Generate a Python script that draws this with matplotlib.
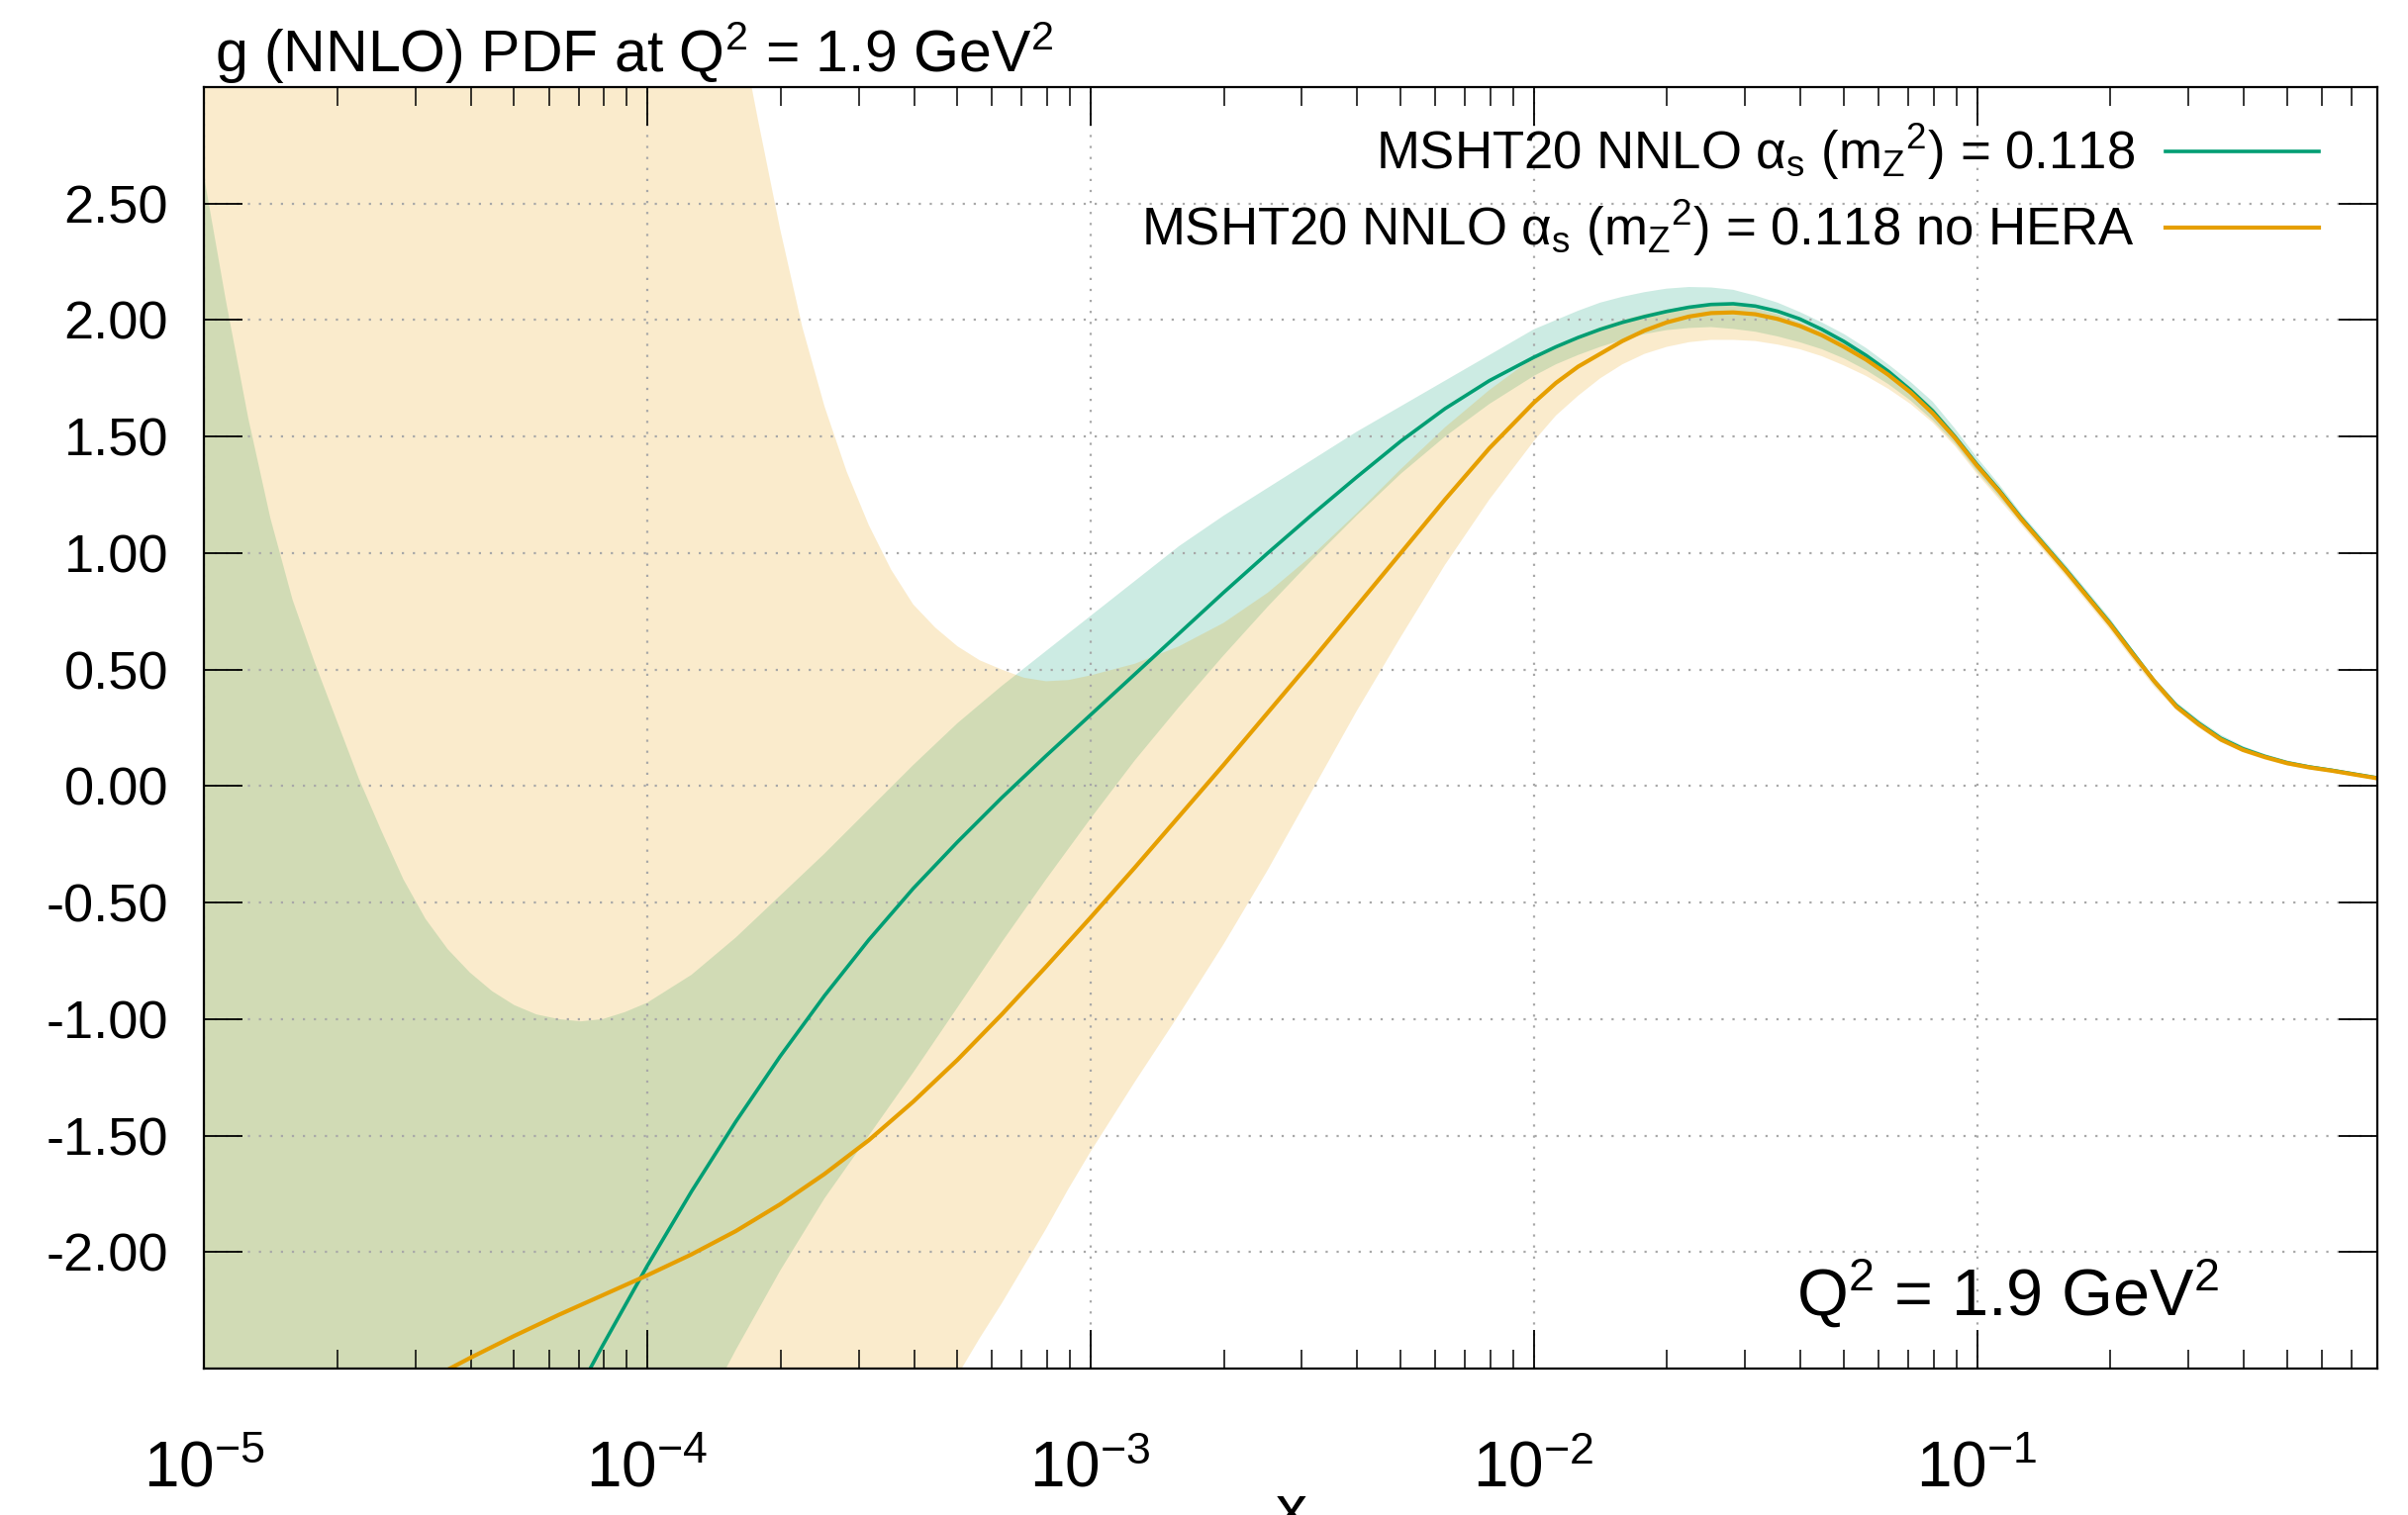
import matplotlib
matplotlib.use("Agg")
import matplotlib.pyplot as plt
import matplotlib.ticker as mticker
import numpy as np

# ------------------------------
# 1. Data (log10 x, g(x))
# ------------------------------
# shared sample points on the right half (peak and large-x tail)
logx_right = [-2.0, -1.95, -1.9, -1.85, -1.8, -1.75, -1.7, -1.65, -1.6, -1.55,
              -1.5, -1.45, -1.4, -1.35, -1.3, -1.25, -1.2, -1.15, -1.1, -1.05,
              -1.0, -0.95, -0.9, -0.85, -0.8, -0.75, -0.7, -0.65, -0.6, -0.55,
              -0.5, -0.45, -0.4, -0.35, -0.3, -0.25, -0.2, -0.15, -0.09]

# green band (MSHT20 NNLO): upper / lower edges
logx_green_left = [-5.0, -4.95, -4.9, -4.85, -4.8, -4.75, -4.7, -4.65, -4.6, -4.55,
                   -4.5, -4.45, -4.4, -4.35, -4.3, -4.25, -4.2, -4.15, -4.1, -4.05,
                   -4.0, -3.9, -3.8, -3.7, -3.6, -3.5, -3.4, -3.3, -3.2, -3.1,
                   -3.0, -2.9, -2.8, -2.7, -2.6, -2.5, -2.4, -2.3, -2.2, -2.1]
green_upper = [2.62, 2.08, 1.58, 1.15, 0.80, 0.53, 0.28, 0.03, -0.19, -0.40,
               -0.57, -0.70, -0.80, -0.88, -0.94, -0.98, -1.00, -1.01, -1.00, -0.97,
               -0.93, -0.81, -0.65, -0.47, -0.29, -0.10, 0.09, 0.27, 0.43, 0.58,
               0.73, 0.88, 1.03, 1.16, 1.28, 1.40, 1.52, 1.63, 1.74, 1.85,
               1.96, 2.00, 2.04, 2.075, 2.10, 2.12, 2.135, 2.142, 2.14, 2.13,
               2.105, 2.075, 2.035, 1.99, 1.94, 1.88, 1.81, 1.735, 1.65, 1.535,
               1.41, 1.295, 1.17, 1.06, 0.95, 0.835, 0.72, 0.59, 0.465, 0.36,
               0.285, 0.22, 0.172, 0.137, 0.11, 0.09, 0.075, 0.058, 0.038]
green_lower = [-6.65, -6.47, -6.30, -6.12, -5.95, -5.78, -5.60, -5.43, -5.25, -5.08,
               -4.90, -4.73, -4.55, -4.38, -4.20, -4.03, -3.85, -3.68, -3.50, -3.33,
               -3.15, -2.78, -2.42, -2.08, -1.77, -1.50, -1.23, -0.95, -0.67, -0.40,
               -0.14, 0.11, 0.34, 0.56, 0.77, 0.97, 1.16, 1.34, 1.50, 1.64,
               1.76, 1.81, 1.85, 1.885, 1.915, 1.94, 1.957, 1.966, 1.97, 1.962,
               1.95, 1.93, 1.905, 1.875, 1.835, 1.785, 1.725, 1.655, 1.57, 1.47,
               1.35, 1.24, 1.13, 1.02, 0.91, 0.795, 0.68, 0.555, 0.435, 0.33,
               0.255, 0.19, 0.148, 0.117, 0.09, 0.073, 0.06, 0.045, 0.028]

# green central line
logx_green_line_left = [-4.2, -4.1, -4.0, -3.9, -3.8, -3.7, -3.6, -3.5, -3.4, -3.3,
                        -3.2, -3.1, -3.0, -2.9, -2.8, -2.7, -2.6, -2.5, -2.4, -2.3,
                        -2.2, -2.1]
green_central = [-2.75, -2.40, -2.06, -1.74, -1.44, -1.16, -0.90, -0.66, -0.44, -0.24,
                 -0.05, 0.13, 0.305, 0.48, 0.655, 0.83, 1.00, 1.165, 1.325, 1.48,
                 1.62, 1.74,
                 1.84, 1.885, 1.925, 1.96, 1.99, 2.015, 2.037, 2.055, 2.067, 2.07,
                 2.06, 2.038, 2.005, 1.96, 1.908, 1.848, 1.78, 1.70, 1.61, 1.50,
                 1.38, 1.27, 1.15, 1.04, 0.93, 0.815, 0.70, 0.575, 0.45, 0.345,
                 0.27, 0.205, 0.16, 0.127, 0.10, 0.082, 0.068, 0.052, 0.033]

# orange band (MSHT20 NNLO no HERA): upper / lower edges
logx_orange_left = [-5.0, -4.9, -4.8, -4.7, -4.6, -4.5, -4.4, -4.3, -4.2, -4.1,
                    -4.0, -3.9, -3.8, -3.75, -3.7, -3.65, -3.6, -3.55, -3.5, -3.45,
                    -3.4, -3.35, -3.3, -3.25, -3.2, -3.15, -3.1, -3.05, -3.0, -2.9,
                    -2.8, -2.7, -2.6, -2.5, -2.4, -2.3, -2.2, -2.1]
orange_upper = [16.5, 15.4, 14.3, 13.2, 12.1, 11.0, 9.9, 8.8, 7.7, 6.6,
                5.5, 4.4, 3.35, 2.86, 2.39, 1.97, 1.63, 1.35, 1.12, 0.93,
                0.78, 0.68, 0.60, 0.54, 0.50, 0.465, 0.45, 0.455, 0.475, 0.525,
                0.60, 0.70, 0.83, 0.99, 1.17, 1.36, 1.54, 1.70,
                1.84, 1.89, 1.93, 1.97, 2.00, 2.025, 2.045, 2.06, 2.068, 2.065,
                2.05, 2.025, 1.99, 1.95, 1.90, 1.845, 1.78, 1.71, 1.625, 1.515,
                1.39, 1.28, 1.16, 1.05, 0.94, 0.825, 0.71, 0.58, 0.455, 0.35,
                0.275, 0.21, 0.165, 0.13, 0.104, 0.085, 0.07, 0.054, 0.035]
orange_lower = [-8.5, -8.15, -7.8, -7.45, -7.1, -6.75, -6.4, -6.05, -5.7, -5.35,
                -5.0, -4.6, -4.25, -4.07, -3.9, -3.72, -3.55, -3.37, -3.2, -3.03,
                -2.86, -2.69, -2.53, -2.37, -2.22, -2.06, -1.90, -1.73, -1.57, -1.27,
                -0.98, -0.68, -0.36, -0.02, 0.32, 0.64, 0.95, 1.23,
                1.48, 1.59, 1.675, 1.75, 1.81, 1.855, 1.885, 1.905, 1.915, 1.915,
                1.91, 1.895, 1.875, 1.845, 1.805, 1.76, 1.705, 1.64, 1.56, 1.46,
                1.34, 1.23, 1.12, 1.01, 0.90, 0.785, 0.67, 0.545, 0.425, 0.325,
                0.25, 0.188, 0.145, 0.113, 0.088, 0.07, 0.058, 0.043, 0.026]

# orange central line
logx_orange_line_left = [-4.6, -4.5, -4.4, -4.3, -4.2, -4.1, -4.0, -3.9, -3.8, -3.7,
                         -3.6, -3.5, -3.4, -3.3, -3.2, -3.1, -3.0, -2.9, -2.8, -2.7,
                         -2.6, -2.5, -2.4, -2.3, -2.2, -2.1]
orange_central = [-2.66, -2.555, -2.455, -2.36, -2.27, -2.185, -2.10, -2.01, -1.91, -1.795,
                  -1.665, -1.52, -1.355, -1.175, -0.98, -0.775, -0.565, -0.35, -0.13, 0.09,
                  0.315, 0.54, 0.77, 1.00, 1.23, 1.45,
                  1.645, 1.73, 1.80, 1.855, 1.91, 1.955, 1.99, 2.015, 2.03, 2.033,
                  2.025, 2.005, 1.975, 1.935, 1.885, 1.83, 1.765, 1.69, 1.60, 1.495,
                  1.375, 1.265, 1.145, 1.035, 0.925, 0.81, 0.695, 0.57, 0.45, 0.34,
                  0.265, 0.20, 0.155, 0.124, 0.098, 0.08, 0.066, 0.05, 0.031]

labels = [r"MSHT20 NNLO α$_s$ (m$_Z$$^2$) = 0.118",
          r"MSHT20 NNLO α$_s$ (m$_Z$$^2$) = 0.118 no HERA"]
yticks = [-2.0, -1.5, -1.0, -0.5, 0.0, 0.5, 1.0, 1.5, 2.0, 2.5]

green = "#009e73"
orange = "#e69f00"

x_green_band = 10.0 ** np.array(logx_green_left + logx_right)
x_green_line = 10.0 ** np.array(logx_green_line_left + logx_right)
x_orange_band = 10.0 ** np.array(logx_orange_left + logx_right)
x_orange_line = 10.0 ** np.array(logx_orange_line_left + logx_right)

# ------------------------------
# 2. Style
# ------------------------------
plt.rcParams["font.family"] = ["Liberation Sans", "DejaVu Sans"]
plt.rcParams["mathtext.fontset"] = "custom"
plt.rcParams["mathtext.rm"] = "Liberation Sans"
plt.rcParams["mathtext.it"] = "Liberation Sans:italic"
plt.rcParams["mathtext.default"] = "regular"

fig = plt.figure(figsize=(24.33, 15.31), dpi=100)
ax = fig.add_axes([206 / 2433, 1 - 1383 / 1531, 2196 / 2433, 1295 / 1531])

# ------------------------------
# 3. Bands and central lines
# ------------------------------
ax.fill_between(x_green_band, green_lower, green_upper, color=green, alpha=0.2, linewidth=0)
ax.fill_between(x_orange_band, orange_lower, orange_upper, color=orange, alpha=0.2, linewidth=0)
l1, = ax.plot(x_green_line, green_central, color=green, lw=2.6)
l2, = ax.plot(x_orange_line, orange_central, color=orange, lw=3.0)

# ------------------------------
# 4. Axes
# ------------------------------
ax.set_xscale("log")
ax.set_xlim(1e-5, 0.8)
ax.set_ylim(-2.5, 3.0)
ax.set_yticks(yticks)
ax.yaxis.set_major_formatter(mticker.FormatStrFormatter("%.2f"))
ax.xaxis.set_major_locator(mticker.LogLocator(base=10, numticks=10))
ax.xaxis.set_minor_locator(mticker.LogLocator(base=10, subs=np.arange(2, 10), numticks=20))
ax.xaxis.set_minor_formatter(mticker.NullFormatter())

ax.tick_params(which="both", direction="in", top=True, right=True, color="black")
ax.tick_params(which="major", length=28, width=1.3)
ax.tick_params(which="minor", length=14, width=1.1)
ax.tick_params(axis="x", which="major", labelsize=46, pad=52)
ax.tick_params(axis="y", which="major", labelsize=39, pad=26)
for s in ax.spines.values():
    s.set_linewidth(1.6)

ax.grid(True, which="major", color="#a8a8a8", linestyle=(0, (1, 4)), linewidth=1.6)

ax.set_xlabel("x", fontsize=46, labelpad=-12)

fig.text(217 / 2433, 1 - 73 / 1531, r"g (NNLO) PDF at Q$^2$ = 1.9 GeV$^2$",
         fontsize=42.5, ha="left", va="baseline")
ax.text(0.927, 0.041, r"Q$^2$ = 1.9 GeV$^2$", transform=ax.transAxes,
        fontsize=48, ha="right", va="baseline")

ax.legend([l1, l2], labels, loc="upper right", bbox_to_anchor=(0.978, 0.981),
          frameon=False, markerfirst=False, fontsize=38, handlelength=2.94,
          handletextpad=0.58, labelspacing=0.3, borderaxespad=0, borderpad=0.2)

fig.savefig("out.png", dpi=100)
